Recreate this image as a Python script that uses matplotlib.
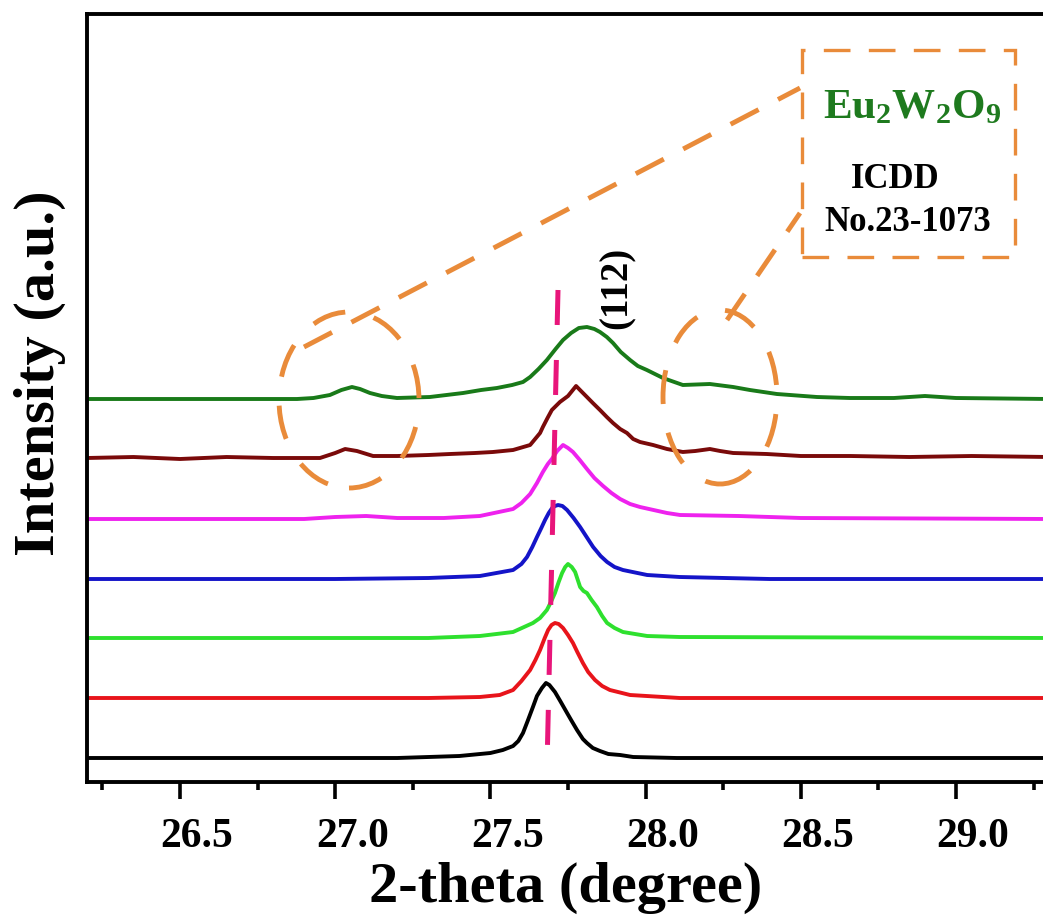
import matplotlib
matplotlib.use("Agg")
import matplotlib.pyplot as plt
from matplotlib.patches import Ellipse, Rectangle
from matplotlib.ticker import MultipleLocator, FormatStrFormatter
import matplotlib.transforms as mtransforms

plt.rcParams['font.family'] = ['Liberation Serif', 'DejaVu Serif']
plt.rcParams['font.weight'] = 'bold'
plt.rcParams['mathtext.fontset'] = 'custom'
plt.rcParams['mathtext.rm'] = 'Liberation Serif:bold'
plt.rcParams['mathtext.bf'] = 'Liberation Serif:bold'
plt.rcParams['mathtext.it'] = 'Liberation Serif:bold'

# ---------------- data ----------------
x_black = [26.20, 27.20, 27.40, 27.50, 27.54, 27.573, 27.59, 27.605, 27.62, 27.637, 27.65, 27.666,
           27.679, 27.69, 27.708, 27.725, 27.747, 27.76, 27.779, 27.798, 27.811, 27.83, 27.853,
           27.88, 27.918, 27.96, 28.10, 29.30]
y_black = [0, 0, 2, 5, 8, 12, 17, 25, 37, 51, 62, 70, 75, 73, 66, 57, 45, 38, 28, 19, 15, 10, 7,
           4, 3, 1, 0, 0]

x_red = [26.20, 27.30, 27.466, 27.53, 27.573, 27.60, 27.628, 27.645, 27.66, 27.675, 27.686,
         27.697, 27.708, 27.72, 27.734, 27.75, 27.766, 27.78, 27.798, 27.815, 27.837, 27.86,
         27.885, 27.95, 28.11, 29.30]
y_red = [0, 0, 1, 3, 8, 17, 28, 38, 48, 60, 68, 73, 75, 74, 70, 63, 55, 46, 35, 26, 18, 12,
         8, 3, 0, 0]

x_lgreen = [26.20, 27.30, 27.466, 27.573, 27.637, 27.66, 27.682, 27.695, 27.708, 27.72, 27.731,
            27.741, 27.750, 27.762, 27.773, 27.789, 27.80, 27.811, 27.826, 27.843, 27.86, 27.876,
            27.90, 27.927, 28.005, 28.11, 29.30]
y_lgreen = [0, 0, 2, 6, 15, 20, 28, 36, 45, 56, 65, 71, 74, 71, 66, 51, 47, 45, 38, 31, 22, 15,
            10, 6, 2, 1, 0]

x_blue = [26.20, 27.00, 27.30, 27.466, 27.573, 27.60, 27.618, 27.635, 27.650, 27.664, 27.676,
          27.688, 27.699, 27.708, 27.718, 27.732, 27.747, 27.768, 27.789, 27.81, 27.831, 27.855,
          27.876, 27.90, 27.927, 28.005, 28.11, 28.40, 29.30]
y_blue = [0, 0, 1, 3, 9, 15, 22, 32, 42, 51, 59, 66, 71, 73, 74, 73, 69, 61, 52, 42, 32, 23,
          17, 12, 9, 4, 2, 0, 0]

x_magenta = [26.20, 26.90, 27.00, 27.10, 27.20, 27.35, 27.466, 27.573, 27.60, 27.628, 27.65,
             27.669, 27.685, 27.698, 27.715, 27.734, 27.75, 27.766, 27.788, 27.811, 27.835,
             27.863, 27.89, 27.918, 27.95, 27.982, 28.069, 28.111, 28.30, 28.50, 29.30]
y_magenta = [0, 0, 2, 3, 1, 1, 3, 10, 16, 25, 36, 47, 55, 60, 68, 74, 71, 67, 59, 50, 41, 33,
             26, 20, 15, 12, 6, 4, 3, 1, 0]

x_brown = [26.20, 26.35, 26.50, 26.65, 26.80, 26.951, 27.00, 27.032, 27.07, 27.122, 27.20, 27.30,
           27.37, 27.45, 27.508, 27.573, 27.628, 27.66, 27.669, 27.684, 27.698, 27.724, 27.75,
           27.776, 27.795, 27.811, 27.83, 27.853, 27.875, 27.895, 27.918, 27.940, 27.96, 27.982,
           28.024, 28.069, 28.12, 28.16, 28.207, 28.24, 28.282, 28.39, 28.50, 28.66, 28.85,
           29.05, 29.30]
y_brown = [0, 1, -1, 1, 0, 0, 5, 9, 7, 2, 2, 3, 4, 5, 6, 8, 13, 25, 31, 40, 48, 56, 62, 72, 66,
           61, 55, 48, 41, 35, 29, 25, 19, 16, 13, 9, 6, 7, 9, 7, 5, 4, 2, 2, 1, 2, 1]

x_dgreen = [26.20, 26.877, 26.93, 26.983, 27.02, 27.054, 27.08, 27.112, 27.15, 27.199, 27.305,
            27.412, 27.47, 27.521, 27.57, 27.605, 27.628, 27.655, 27.682, 27.71, 27.734, 27.76,
            27.785, 27.811, 27.835, 27.853, 27.875, 27.895, 27.92, 27.950, 27.975, 28.004,
            28.056, 28.120, 28.207, 28.282, 28.336, 28.423, 28.552, 28.658, 28.80, 28.90, 29.00,
            29.30]
y_dgreen = [0, 0, 1, 4, 9, 12, 10, 6, 3, 1, 2, 6, 9, 11, 14, 17, 22, 30, 39, 50, 59, 66, 71,
            72, 70, 67, 62, 56, 47, 39, 33, 29, 21, 14, 15, 12, 9, 5, 2, 1, 1, 3, 1, 0]

series_x = [x_black, x_red, x_lgreen, x_blue, x_magenta, x_brown, x_dgreen]
series_y = [y_black, y_red, y_lgreen, y_blue, y_magenta, y_brown, y_dgreen]
colors = ['#000000', '#E8141B', '#2EE02E', '#1414C8', '#EE22EE', '#7A0A0A', '#197A19']
offsets = [24, 84, 144, 203, 263, 324, 383]

xticks = [26.5, 27.0, 27.5, 28.0, 28.5, 29.0]

# ---------------- figure ----------------
W, H = 1043, 922
fig = plt.figure(figsize=(W / 100, H / 100), dpi=100)
px_per_deg = 310.4
x_left_px = 180 - 0.3 * px_per_deg
ax = fig.add_axes([x_left_px / W, 1 - 782 / H, 3.1 * px_per_deg / W, 768 / H])
ax.set_xlim(26.2, 29.3)
ax.set_ylim(0, 768)


def xd(px):
    return 26.5 + (px - 180) / px_per_deg


def yd(py):
    return 782 - py


for xs, ys, c, off in zip(series_x, series_y, colors, offsets):
    ax.plot(xs, [v + off for v in ys], color=c, lw=2.8, solid_joinstyle='round', zorder=2)

# magenta dashed reference line
ax.plot([xd(558), xd(547.5)], [yd(290), yd(745)], color='#E8157A', lw=3.6,
        linestyle=(0, (7, 7)), solid_capstyle='butt', zorder=4)

orange = '#E98B3A'
# ellipses
ax.add_patch(Ellipse((xd(349), yd(400)), 140 / px_per_deg, 176, fill=False,
                     edgecolor=orange, lw=3.5, linestyle=(0, (7, 6)), zorder=3))
ax.add_patch(Ellipse((xd(720), yd(397)), 114 / px_per_deg, 174, fill=False,
                     edgecolor=orange, lw=3.5, linestyle=(0, (7, 6)), zorder=3))
# connecting lines
ax.plot([xd(304), xd(800)], [yd(347), yd(88)], color=orange, lw=3.5,
        linestyle=(0, (6.5, 4.5)), zorder=3)
ax.plot([xd(727), xd(800)], [yd(320), yd(213)], color=orange, lw=3.5,
        linestyle=(0, (6.5, 4.5)), zorder=3)
# box
ax.add_patch(Rectangle((xd(802), yd(257)), (1015 - 802) / px_per_deg, 257 - 50, fill=False,
                       edgecolor=orange, lw=2.4, linestyle=(0, (8, 5.5)), zorder=3))

ax.text(xd(912), yd(118), r'$\mathbf{Eu_2W_2O_9}$', color='#1E7A1E', fontsize=31,
        ha='center', va='baseline', zorder=5)
ax.text(xd(895), yd(179), 'ICDD', fontsize=25, fontweight='bold', ha='center', va='center')
ax.text(xd(908), yd(222), 'No.23-1073', fontsize=25, fontweight='bold', ha='center', va='center')
ax.text(xd(617), yd(288), '(112)', fontsize=28, fontweight='bold', rotation=90,
        ha='center', va='center')

# axes styling
for s in ax.spines.values():
    s.set_linewidth(2.8)
ax.set_yticks([])
ax.xaxis.set_major_locator(MultipleLocator(0.5))
ax.xaxis.set_minor_locator(MultipleLocator(0.25))
ax.xaxis.set_major_formatter(FormatStrFormatter('%.1f'))
ax.tick_params(axis='x', which='major', direction='out', length=12, width=2.6,
               labelsize=30, pad=14, top=False)
ax.tick_params(axis='x', which='minor', direction='out', length=6, width=2.6, top=False)
ax.set_xticks(xticks)
for lab in ax.get_xticklabels():
    lab.set_fontweight('bold')

fig.text(566 / W, 1 - 888 / H, '2-theta (degree)', fontsize=42, fontweight='bold',
         ha='center', va='center')
fig.text(40 / W, 1 - 373 / H, 'Intensity (a.u.)', fontsize=42, fontweight='bold',
         rotation=90, ha='center', va='center')

offset = mtransforms.ScaledTranslation(17 / 100, 0, fig.dpi_scale_trans)
for lab in ax.xaxis.get_majorticklabels():
    lab.set_transform(lab.get_transform() + offset)

fig.savefig('out.png', dpi=100)
